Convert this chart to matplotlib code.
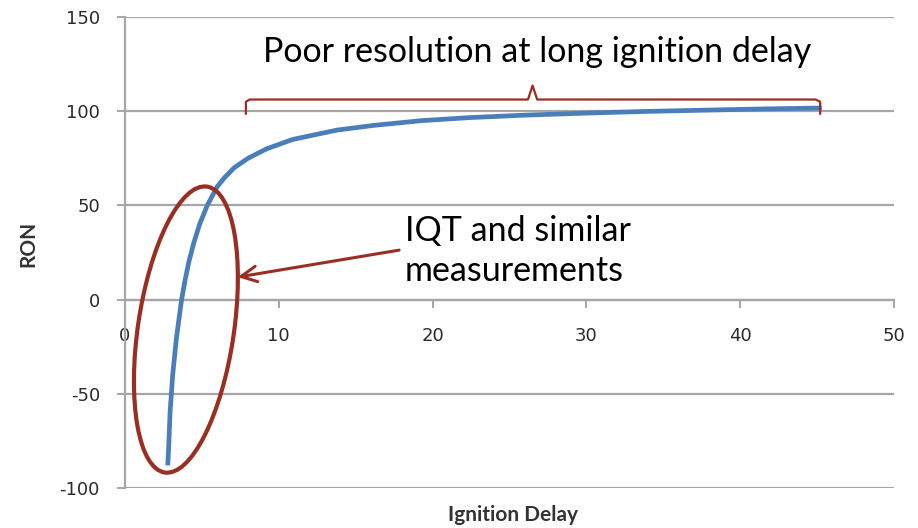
import numpy as np
import matplotlib
matplotlib.use('Agg')
import matplotlib.pyplot as plt
import matplotlib.transforms as mtransforms
from matplotlib.patches import Ellipse

# curve
ignition_delay = [2.78, 2.83, 2.93, 3.1, 3.35, 3.68, 3.9, 4.15, 4.47, 4.85, 5.35, 6.0,
                  6.5, 7.1, 8.0, 9.2, 10.9, 13.8, 16.2, 19.3, 22.4, 26.0, 30.0,
                  34.0, 38.0, 41.5, 45.3]
ron = [-88, -80, -60, -40, -20, 0, 10, 20, 30, 40, 50, 60,
       65, 70, 75, 80, 85, 90, 92.5, 95, 96.6, 97.9, 99.0,
       99.9, 100.6, 101.2, 101.7]

x_ticks = [0, 10, 20, 30, 40, 50]
y_ticks = [-100, -50, 0, 50, 100, 150]
y_labels = ['-100', '-50', '0', '50', '100', '150']

red = '#9a2e22'
blue = '#4a7ebb'
grey = '#a6a6a6'

fig = plt.figure(figsize=(9.18, 5.28), dpi=100)
ax = fig.add_axes([125/918, 40/528, 769/918, 471/528])

ax.set_xlim(0, 50)
ax.set_ylim(-100, 150)
for y in y_ticks:
    ax.axhline(y, color=grey, lw=1.6, zorder=1)

ax.plot(ignition_delay, ron, color=blue, lw=3.4, solid_capstyle='butt',
        solid_joinstyle='round', zorder=3)

for s in ('top', 'right'):
    ax.spines[s].set_visible(False)
ax.spines['bottom'].set_position(('data', 0))
ax.spines['bottom'].set_color(grey)
ax.spines['left'].set_color(grey)
ax.spines['bottom'].set_linewidth(1.6)
ax.spines['left'].set_linewidth(1.6)

ax.set_xticks(x_ticks)
ax.set_yticks(y_ticks)
ax.set_yticklabels(y_labels)
ax.tick_params(axis='both', direction='out', length=6, width=1.4, color=grey,
               labelsize=13, labelcolor='#2a2a2a')
ax.tick_params(axis='x', pad=14)
ax.tick_params(axis='y', pad=12)

fig.text(28/918, 1 - 244/528, 'RON', rotation=90, ha='center', va='center',
         fontsize=15, fontweight='bold', family='Lato', color='#333333')
fig.text(513/918, 1 - 515/528, 'Ignition Delay', ha='center', va='center',
         fontsize=15, fontweight='bold', family='Lato', color='#333333')

# annotations
ax.text(26.77, 131.6, 'Poor resolution at long ignition delay', ha='center', va='center',
        fontsize=24.5, family='Lato', color='black')
ax.text(18.2, 25.8, 'IQT and similar\nmeasurements', ha='left', va='center',
        fontsize=24.5, family='Lato', color='black', linespacing=1.27)

# bracket
bx = [7.86, 7.86, 8.1, 26.2, 26.5, 26.8, 44.9, 45.2, 45.2]
by = [98.7, 105.0, 106.2, 106.2, 113.6, 106.2, 106.2, 105.0, 98.7]
ax.plot(bx, by, color=red, lw=1.6, zorder=4)

# ellipse around steep part (size in inches, centre in data units)
trans = fig.dpi_scale_trans + mtransforms.ScaledTranslation(3.96, -15.9, ax.transData)
ell = Ellipse((0, 0), 2.89, 0.96, angle=81.6, fill=False, edgecolor=red, lw=3,
              transform=trans, zorder=5)
ax.add_patch(ell)

ax.annotate('', xy=(7.15, 11.7), xytext=(18.0, 26.5),
            arrowprops=dict(arrowstyle='->', color=red, lw=2.2, mutation_scale=28))

fig.savefig('out.png', dpi=100)
